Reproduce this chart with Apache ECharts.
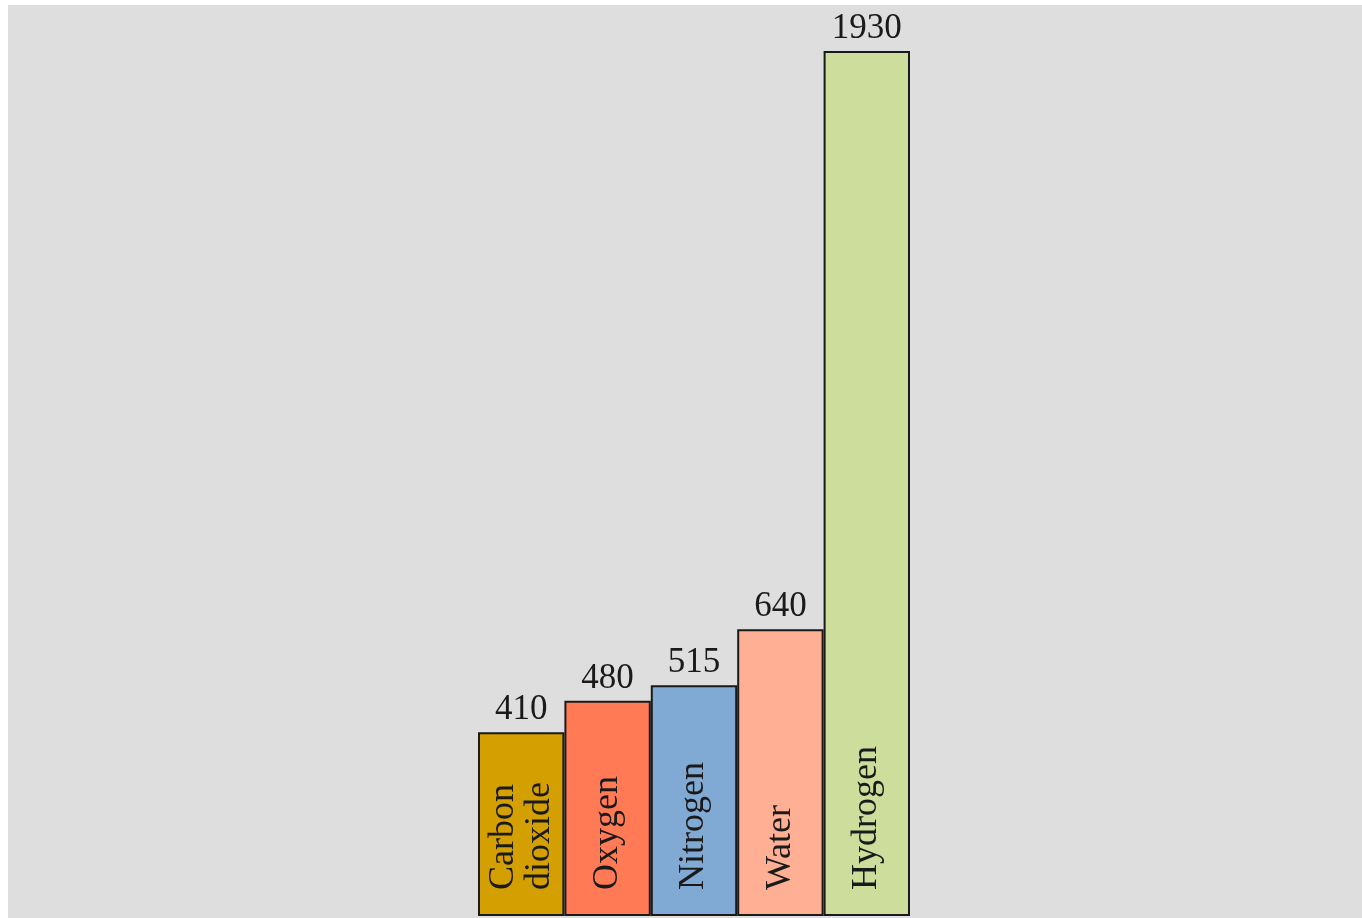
<!DOCTYPE html>
<html>
<head>
<meta charset="utf-8">
<script src="https://cdn.jsdelivr.net/npm/echarts@6/dist/echarts.min.js"></script>
<style>
  html, body { margin: 0; padding: 0; background: #ffffff; }
  #chart { position: absolute; left: 8px; top: 5px; width: 1354px; height: 913px; background: #dedede; }
</style>
</head>
<body>
<div id="chart"></div>
<script>
// Gases and their values
const categories = ['Carbon\ndioxide', 'Oxygen', 'Nitrogen', 'Water', 'Hydrogen'];
const values = [410, 480, 515, 640, 1930];
const colors = ['#d49f00', '#ff7a55', '#80a9d3', '#ffaf94', '#cddd9b'];

const FONT = '"Liberation Serif", "DejaVu Serif", serif';

const chart = echarts.init(document.getElementById('chart'), null, { renderer: 'canvas' });

chart.setOption({
  backgroundColor: '#dedede',
  animation: false,
  grid: { left: 470, width: 432, top: 46, bottom: 2 },
  xAxis: {
    type: 'category',
    data: categories,
    show: false
  },
  yAxis: {
    type: 'value',
    min: 0,
    max: 1930,
    show: false
  },
  series: [
    {
      type: 'bar',
      barCategoryGap: 0,
      data: values.map((v, i) => ({
        value: v,
        itemStyle: { color: colors[i] }
      })),
      itemStyle: { borderColor: '#1a1a1a', borderWidth: 2 },
      label: {
        show: true,
        position: 'insideBottom',
        rotate: 90,
        align: 'left',
        verticalAlign: 'middle',
        distance: 26,
        formatter: p => p.name,
        fontFamily: FONT,
        fontSize: 36,
        lineHeight: 36,
        color: '#1a1a1a'
      }
    },
    {
      type: 'bar',
      barGap: '-100%',
      barCategoryGap: 0,
      silent: true,
      data: values,
      itemStyle: { color: 'rgba(0,0,0,0)' },
      label: {
        show: true,
        position: 'top',
        distance: 5,
        fontFamily: FONT,
        fontSize: 35,
        color: '#1a1a1a'
      }
    }
  ]
});
</script>
</body>
</html>
